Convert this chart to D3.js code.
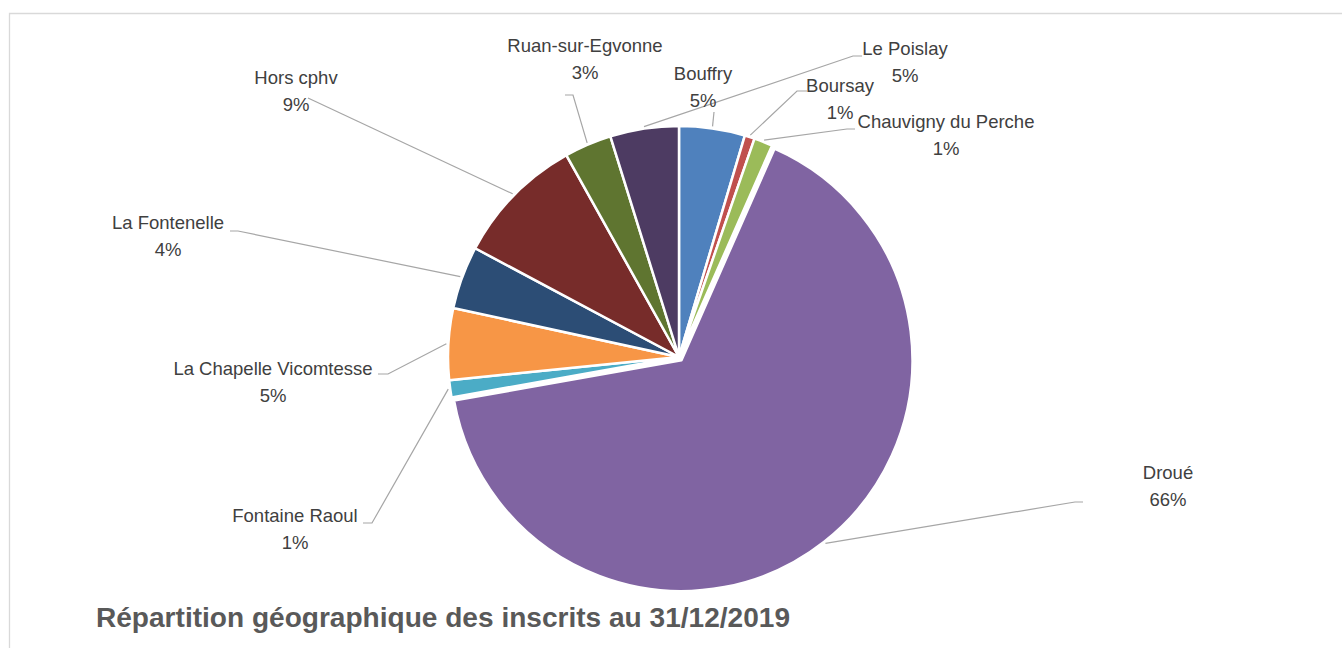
<!DOCTYPE html>
<html>
<head>
<meta charset="utf-8">
<script src="https://cdn.jsdelivr.net/npm/d3@7"></script>
<style>
  body { margin: 0; background: #fff; }
  svg { display: block; }
  .lbl { font-family: "Liberation Sans", Arial, sans-serif; font-size: 18.5px; fill: #404040; }
  .title { font-family: "Liberation Sans", Arial, sans-serif; font-size: 27px; font-weight: bold; fill: #595959; }
</style>
</head>
<body>
<svg id="chart"></svg>
<script>
// data (shares in %)
const communes = ["Bouffry", "Boursay", "Chauvigny du Perche", "Droué", "Fontaine Raoul",
  "La Chapelle Vicomtesse", "La Fontenelle", "Hors cphv", "Ruan-sur-Egvonne", "Le Poislay"];
const shares = [4.6, 0.7, 1.3, 65.6, 1.2, 5.0, 4.4, 9.1, 3.3, 4.8];
const colors = ["#4F81BD", "#C0504D", "#9BBB59", "#8064A2", "#4BACC6",
  "#F79646", "#2C4D75", "#772C2A", "#5F7530", "#4D3B62"];
const chartTitle = "Répartition géographique des inscrits au 31/12/2019";

// label layout: text centre (x, y of first line), leader start (sx, sy), stub length
const labelLayout = {
  "Bouffry":                {x: 703,  y: 80,  sx: 714, sy: 112, stub: 0},
  "Boursay":                {x: 840,  y: 92,  sx: 807, sy: 91,  stub: -10},
  "Chauvigny du Perche":    {x: 946,  y: 128, sx: 855, sy: 129, stub: -8},
  "Droué":                  {x: 1168, y: 479, sx: 1083, sy: 502, stub: -8},
  "Fontaine Raoul":         {x: 295,  y: 522, sx: 363, sy: 523, stub: 9},
  "La Chapelle Vicomtesse": {x: 273,  y: 375, sx: 378, sy: 374, stub: 10},
  "La Fontenelle":          {x: 168,  y: 229, sx: 230, sy: 231, stub: 8},
  "Hors cphv":              {x: 296,  y: 84,  sx: 308, sy: 98,  stub: 0},
  "Ruan-sur-Egvonne":       {x: 585,  y: 52,  sx: 565, sy: 95,  stub: 8},
  "Le Poislay":             {x: 905,  y: 55,  sx: 862, sy: 56,  stub: -9}
};

const width = 1342, height = 648;
const cx = 679, cy = 357, radius = 231;
const explode = {"Droué": 4};

const svg = d3.select("#chart").attr("width", width).attr("height", height);

// chart area border
svg.append("path")
  .attr("d", `M9.5,${height} V13.5 H${width}`)
  .attr("fill", "none")
  .attr("stroke", "#d9d9d9")
  .attr("stroke-width", 1.3);

const total = d3.sum(shares);
const data = communes.map((c, i) => ({name: c, value: shares[i], color: colors[i]}));

const pie = d3.pie().sort(null).value(d => d.value);
const arcs = pie(data);
const arc = d3.arc().innerRadius(0).outerRadius(radius);

const g = svg.append("g").attr("transform", `translate(${cx},${cy})`);

function offset(d) {
  const e = explode[d.data.name] || 0;
  const a = (d.startAngle + d.endAngle) / 2;
  return [e * Math.sin(a), -e * Math.cos(a)];
}

g.selectAll("path.slice")
  .data(arcs)
  .enter()
  .append("path")
  .attr("class", "slice")
  .attr("d", arc)
  .attr("fill", d => d.data.color)
  .attr("stroke", "#fff")
  .attr("stroke-width", 2.5)
  .attr("stroke-linejoin", "round")
  .attr("transform", d => `translate(${offset(d)})`);

// leader lines
const leaders = svg.append("g");
arcs.forEach(d => {
  const L = labelLayout[d.data.name];
  const a = (d.startAngle + d.endAngle) / 2;
  const [ox, oy] = offset(d);
  const ex = cx + ox + (radius + 2) * Math.sin(a), ey = cy + oy - (radius + 2) * Math.cos(a);
  const pts = [[L.sx, L.sy]];
  if (L.stub) pts.push([L.sx + L.stub, L.sy]);
  pts.push([ex, ey]);
  leaders.append("path")
    .attr("d", d3.line()(pts))
    .attr("fill", "none")
    .attr("stroke", "#a6a6a6")
    .attr("stroke-width", 1.2);
});

// data labels
const labels = svg.append("g");
arcs.forEach(d => {
  const L = labelLayout[d.data.name];
  const t = labels.append("text")
    .attr("class", "lbl")
    .attr("text-anchor", "middle");
  t.append("tspan").attr("x", L.x).attr("y", L.y).text(d.data.name);
  t.append("tspan").attr("x", L.x).attr("y", L.y + 27)
    .text(Math.round(d.data.value / total * 100) + "%");
});

svg.append("text")
  .attr("class", "title")
  .attr("x", 96)
  .attr("y", 627)
  .attr("textLength", 694)
  .attr("lengthAdjust", "spacingAndGlyphs")
  .text(chartTitle);
</script>
</body>
</html>
